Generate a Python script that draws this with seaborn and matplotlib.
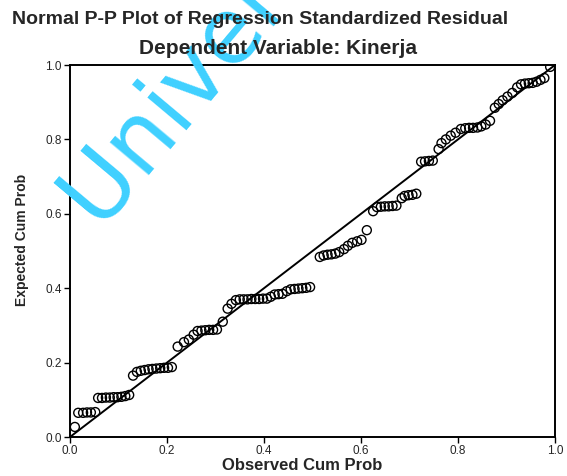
import matplotlib
matplotlib.use("Agg")
import matplotlib.pyplot as plt
import seaborn as sns
import pandas as pd

observed = [0.010,
            0.017, 0.027, 0.035, 0.043, 0.052,
            0.058, 0.066, 0.074, 0.082, 0.090, 0.098, 0.106, 0.114, 0.122,
            0.130, 0.138,
            0.146, 0.154, 0.162, 0.170, 0.178, 0.186, 0.194, 0.202, 0.210,
            0.222, 0.235, 0.245, 0.255,
            0.263, 0.271, 0.279, 0.287, 0.295, 0.303,
            0.315, 0.325, 0.333, 0.342,
            0.350, 0.358, 0.366, 0.374, 0.382, 0.390, 0.398, 0.406,
            0.414, 0.422, 0.430, 0.438, 0.447,
            0.455, 0.463, 0.471, 0.479, 0.487, 0.495,
            0.515, 0.523, 0.531, 0.539, 0.547, 0.555,
            0.565, 0.573, 0.582, 0.592, 0.601, 0.612, 0.625,
            0.633, 0.641, 0.649, 0.657, 0.665, 0.673,
            0.684, 0.690, 0.698, 0.706, 0.714,
            0.724, 0.732, 0.740, 0.748,
            0.760, 0.766, 0.775, 0.785, 0.795, 0.806,
            0.815, 0.823, 0.831, 0.840, 0.848, 0.857, 0.866,
            0.876, 0.884, 0.892, 0.902, 0.912, 0.922,
            0.930, 0.938, 0.946, 0.954, 0.962, 0.970, 0.978,
            0.990]
expected = [0.027,
            0.065, 0.065, 0.066, 0.066, 0.067,
            0.105, 0.105, 0.106, 0.106, 0.107, 0.107, 0.108, 0.110, 0.113,
            0.165, 0.175,
            0.178, 0.180, 0.182, 0.183, 0.184, 0.185, 0.186, 0.186, 0.188,
            0.243, 0.255, 0.262, 0.275,
            0.285, 0.286, 0.287, 0.288, 0.288, 0.289,
            0.310, 0.345, 0.358, 0.368,
            0.370, 0.370, 0.370, 0.371, 0.371, 0.371, 0.372, 0.372,
            0.377, 0.383, 0.384, 0.385, 0.392,
            0.397, 0.398, 0.399, 0.400, 0.401, 0.403,
            0.484, 0.488, 0.490, 0.491, 0.493, 0.497,
            0.505, 0.514, 0.522, 0.526, 0.530, 0.556, 0.607,
            0.618, 0.619, 0.620, 0.620, 0.621, 0.622,
            0.642, 0.648, 0.650, 0.651, 0.654,
            0.740, 0.741, 0.742, 0.743,
            0.774, 0.790, 0.800, 0.810, 0.818, 0.828,
            0.830, 0.831, 0.831, 0.832, 0.835, 0.840, 0.850,
            0.885, 0.895, 0.905, 0.915, 0.925, 0.940,
            0.948, 0.950, 0.951, 0.952, 0.955, 0.960, 0.965,
            0.995]
ref_line = [0.0, 1.0]
x_ticks = [0.0, 0.2, 0.4, 0.6, 0.8, 1.0]
y_ticks = [0.0, 0.2, 0.4, 0.6, 0.8, 1.0]

sns.set_style("white")
plt.rcParams["font.family"] = ["Liberation Sans", "DejaVu Sans"]

df = pd.DataFrame({"Observed Cum Prob": observed, "Expected Cum Prob": expected})
line_df = pd.DataFrame({"x": ref_line, "y": ref_line})

fig = plt.figure(figsize=(5.67, 4.76), dpi=100)
ax = fig.add_axes([70/567, 1-437/476, (555-70)/567, (437-65)/476])

sns.lineplot(data=line_df, x="x", y="y", color="black", linewidth=1.4, ax=ax)
sns.scatterplot(data=df, x="Observed Cum Prob", y="Expected Cum Prob", ax=ax,
                marker="o", s=42, facecolor="none", edgecolor="black",
                linewidth=1.0, zorder=3)

ax.set_xlim(0, 1)
ax.set_ylim(0, 1)
ax.set_xticks(x_ticks)
ax.set_yticks(y_ticks)
ax.set_xticklabels([f"{t:.1f}" for t in x_ticks], fontsize=8.5)
ax.set_yticklabels([f"{t:.1f}" for t in y_ticks], fontsize=8.5)
ax.tick_params(axis="both", direction="out", length=4, width=1.0, color="black",
               bottom=True, left=True, pad=2)
for sp in ax.spines.values():
    sp.set_color("black")
    sp.set_linewidth(1.4)
ax.set_xlabel("")
ax.set_ylabel("")

fig.text(302/567, 1-466/476, "Observed Cum Prob", ha="center", va="center",
         fontsize=12, fontweight="bold", zorder=5)
fig.text(22/567, 1-240/476, "Expected Cum Prob", ha="center", va="center",
         rotation=90, fontsize=10, fontweight="bold", zorder=5)

fig.text(260/567, 1-19/476, "Normal P-P Plot of Regression Standardized Residual",
         ha="center", va="center", fontsize=14, fontweight="bold", zorder=5)
fig.text(278/567, 1-48/476, "Dependent Variable: Kinerja",
         ha="center", va="center", fontsize=15, fontweight="bold", zorder=5)

# watermark
fig.text(98/567, 1-226/476, "Universitas", color="#3fd0ff", fontsize=66,
         rotation=50, rotation_mode="anchor", ha="left", va="baseline",
         family="DejaVu Sans", zorder=2)

fig.savefig("out.png", dpi=100)
